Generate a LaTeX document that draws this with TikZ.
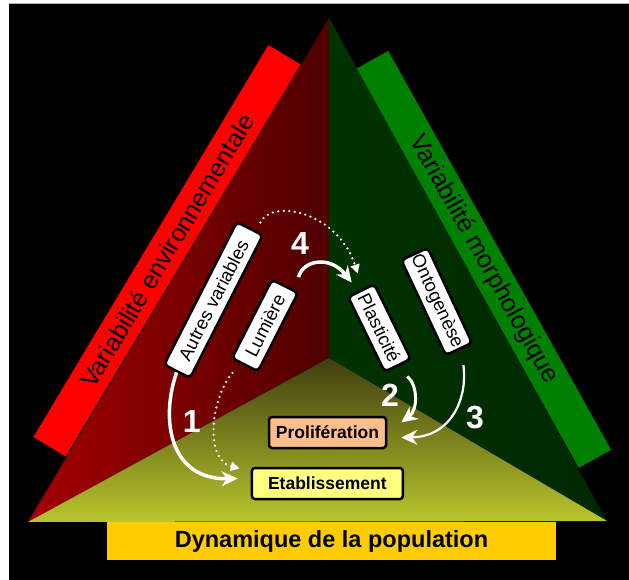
\documentclass[tikz,border=0pt]{standalone}
\usepackage{fontspec}
\setmainfont{Liberation Sans}
\usetikzlibrary{arrows.meta}
\definecolor{bandred}{RGB}{255,0,0}
\definecolor{bandgreen}{RGB}{0,128,0}
\definecolor{redL}{RGB}{165,0,0}
\definecolor{redR}{RGB}{78,0,0}
\definecolor{grnL}{RGB}{0,50,0}
\definecolor{grnR}{RGB}{0,40,0}
\definecolor{botT}{RGB}{62,62,16}
\definecolor{botM}{RGB}{142,154,36}
\definecolor{botB}{RGB}{185,198,44}
\definecolor{gold}{RGB}{255,204,0}
\definecolor{peach}{RGB}{255,191,140}
\definecolor{lightyel}{RGB}{255,255,128}
\begin{document}
\begin{tikzpicture}[x=1pt,y=-1pt,
  band/.style={inner sep=0pt, font=\fontsize{25}{27}\selectfont, text=black},
  vbox/.style={draw=black, line width=2.5pt, fill=white, rounded corners=4pt,
    minimum height=29pt, inner sep=2pt, font=\fontsize{18.5}{19}\selectfont},
  hbox/.style={draw=black, line width=2.5pt, rounded corners=3pt,
    minimum height=31pt, inner sep=2pt, font=\bfseries\fontsize{17.5}{18}\selectfont},
  num/.style={text=white, font=\bfseries\fontsize{32}{32}\selectfont, inner sep=0pt},
  bigarrow/.style={draw=white, -{Stealth[length=16pt,width=15pt]}},
  dotarrow/.style={draw=white, line width=2.5pt, line cap=round,
    dash pattern=on 0pt off 5.5pt, -{Triangle[length=9pt,width=9pt]}}
]
\useasboundingbox (0,0) rectangle (629,580);
\fill[white] (0,0) rectangle (629,580);
\fill[black] (9,4) rectangle (629,580);
\draw[gray!60, line width=1pt] (9,4) -- (629,4);

% side bands
\node[band, fill=bandred, rotate=59.06, minimum width=457pt, minimum height=37.6pt]
  (benv) at (167,250.75) {Variabilité environnementale};
\node[band, fill=bandgreen, rotate=-60.8, minimum width=457pt, minimum height=37pt]
  (bmor) at (483.5,259.4) {Variabilité morphologique};

% faces
\shade[left color=redL, right color=redR] (329,18) -- (329,358) -- (28,522) -- cycle;
\shade[left color=grnL, right color=grnR] (329,18) -- (607,521) -- (329,358) -- cycle;
\shade[top color=botT, middle color=botM, bottom color=botB] (28,522) -- (329,358) -- (607,521) -- cycle;

% bottom bar
\node[fill=gold, minimum width=449pt, minimum height=38pt, inner sep=0pt,
  font=\bfseries\fontsize{23.5}{25}\selectfont] (dyn) at (331.5,541) {Dynamique de la population};

% boxes
\node[vbox, rotate=63, minimum width=160pt] (av) at (213.5,300) {Autres variables};
\node[vbox, rotate=63, minimum width=88pt] (lum) at (265,325.5) {Lumière};
\node[vbox, rotate=-64, minimum width=83pt] (pla) at (379.5,328) {Plasticité};
\node[vbox, rotate=-65, minimum width=104pt] (ont) at (436.7,301.5) {Ontogenèse};
\node[hbox, fill=peach, minimum width=117pt] (pro) at (327.5,432.5) {Prolifération};
\node[hbox, fill=lightyel, minimum width=151pt] (eta) at (327.4,483.5) {Etablissement};

% numbers
\node[num] (n1) at (191.7,421.7) {1};
\node[num] (n2) at (390,395) {2};
\node[num] (n3) at (475,418) {3};
\node[num] (n4) at (300,243) {4};

% arrows
\draw[bigarrow, line width=3.5pt] (av.west) .. controls (160,420) and (170,480) .. ([shift={(-13,-5)}]eta.west);
\draw[dotarrow] ([shift={(-12,7)}]lum.west) .. controls (210,400) and (205,460) .. ([shift={(-11,-15)}]eta.west);
\draw[bigarrow, line width=3.5pt] ([shift={(13,-8)}]lum.east) .. controls (303,260) and (330,255) .. ([shift={(-9,-7)}]pla.west);
\draw[dotarrow] ([shift={(10,-5)}]av.east) .. controls (272,198) and (338,212) .. ([shift={(-3,-16)}]pla.west);
\draw[bigarrow, line width=3pt] ([shift={(9,10)}]pla.east) .. controls (418,385) and (418,410) .. ([shift={(14,-10)}]pro.east);
\draw[bigarrow, line width=2.2pt] ([shift={(4,15)}]ont.east) .. controls (468,400) and (450,437) .. ([shift={(14,5)}]pro.east);
\end{tikzpicture}
\end{document}
